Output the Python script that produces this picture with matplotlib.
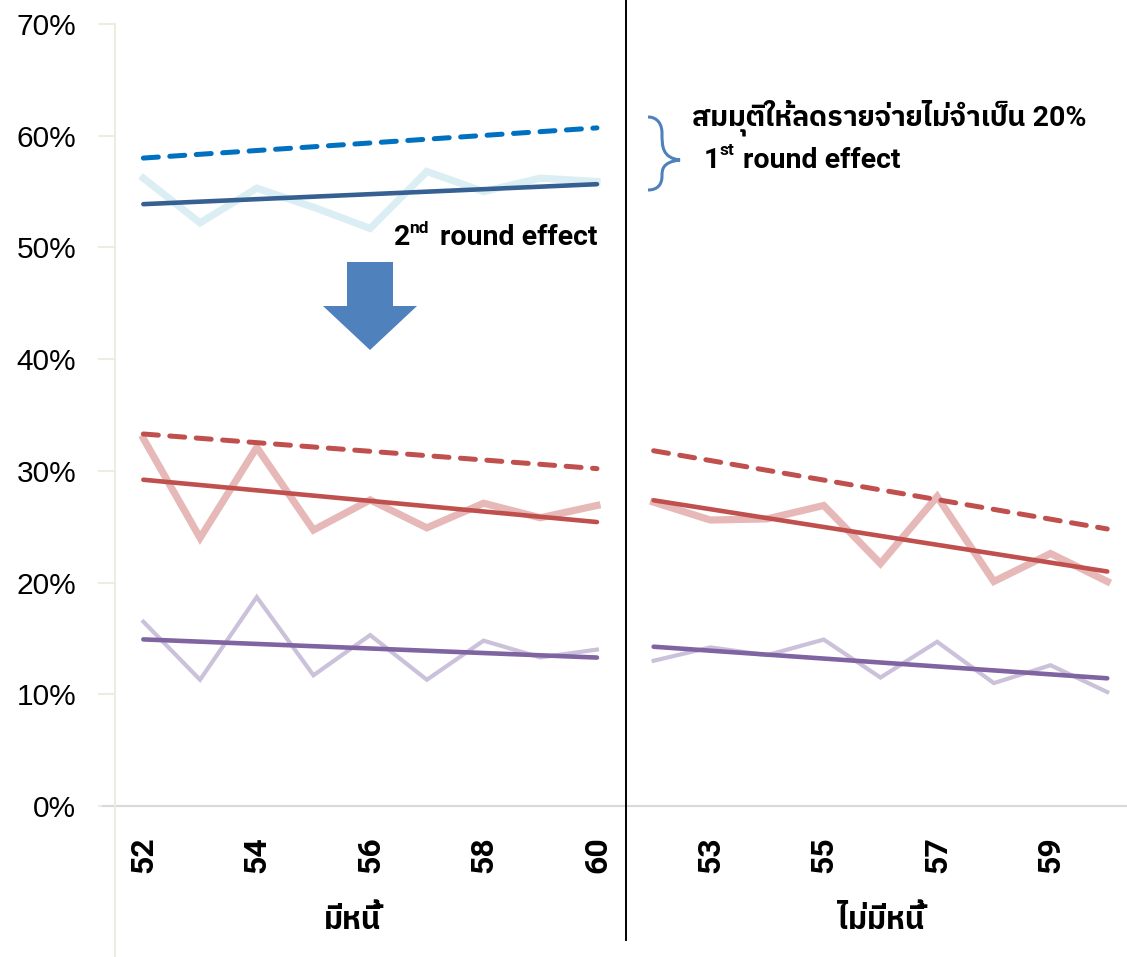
import numpy as np
import matplotlib
matplotlib.use("Agg")
import matplotlib.pyplot as plt
from matplotlib.lines import Line2D
from matplotlib.patches import Polygon, PathPatch
from matplotlib.path import Path

# ---------------- data ----------------
ages = [52, 53, 54, 55, 56, 57, 58, 59, 60]
groups = ["มีหนี้", "ไม่มีหนี้"]
y_ticks = [0, 10, 20, 30, 40, 50, 60, 70]

# group "มีหนี้" (with debt)
debt_blue_actual = [56.2, 52.2, 55.3, 53.6, 51.7, 56.8, 55.0, 56.2, 55.9]
debt_blue_scenario_trend = [58.0, 60.7]          # trend value at age 52 and 60
debt_red_actual = [32.9, 24.0, 32.1, 24.7, 27.4, 24.9, 27.1, 25.8, 26.9]
debt_red_scenario_trend = [33.3, 30.2]
debt_purple_actual = [16.5, 11.3, 18.7, 11.7, 15.3, 11.3, 14.8, 13.3, 14.0]

# group "ไม่มีหนี้" (without debt)
nodebt_red_actual = [27.2, 25.6, 25.7, 26.9, 21.7, 27.7, 20.1, 22.6, 20.1]
nodebt_red_scenario_trend = [31.8, 24.8]
nodebt_purple_actual = [13.0, 14.2, 13.5, 14.9, 11.5, 14.7, 11.0, 12.6, 10.2]

note_scenario = "สมมุติให้ลดรายจ่ายไม่จำเป็น 20%"

# ---------------- fonts ----------------
THAI = ["Roboto", "IBM Plex Sans Thai", "DejaVu Sans"]
plt.rcParams["font.family"] = ["Liberation Sans", "IBM Plex Sans Thai", "DejaVu Sans"]

W, H = 1127, 957
fig = plt.figure(figsize=(W / 100, H / 100), dpi=100)

def fx(x):
    return x / W

def fy(y):
    return 1 - y / H

ax_left, ax_right = 115, 1127
ax_top, ax_bot = 24, 806
ax = fig.add_axes([fx(ax_left), fy(ax_bot), fx(ax_right - ax_left), (ax_bot - ax_top) / H])
step = 56.7
xmax = (ax_right - ax_left) / step - 0.5
ax.set_xlim(-0.5, xmax)
ax.set_ylim(0, 70)

n = len(ages)
xl = np.arange(n)
xr = np.arange(n) + n

def trend(x, y):
    p = np.polyfit(x, y, 1)
    return np.polyval(p, x)

c_lblue = "#DAEEF3"
c_dblue = "#376092"
c_blue_d = "#0070C0"
c_red = "#C0504D"
c_lred = "#E6B9B8"
c_purp = "#8064A2"
c_lpurp = "#CCC1DA"

dash = dict(linestyle=(0, (3.0, 2.3)), dash_capstyle="round", solid_capstyle="round")

# left group
ax.plot(xl, debt_blue_actual, color=c_lblue, lw=5.2, solid_joinstyle="miter")
ax.plot(xl, trend(xl, debt_blue_actual), color=c_dblue, lw=3.3, solid_capstyle="round")
ax.plot([xl[0], xl[-1]], debt_blue_scenario_trend, color=c_blue_d, lw=3.6, **dash)
ax.plot(xl, debt_red_actual, color=c_lred, lw=5.2, solid_joinstyle="miter")
ax.plot(xl, trend(xl, debt_red_actual), color=c_red, lw=3.3, solid_capstyle="round")
ax.plot([xl[0], xl[-1]], debt_red_scenario_trend, color=c_red, lw=3.6, **dash)
ax.plot(xl, debt_purple_actual, color=c_lpurp, lw=3.0, solid_joinstyle="miter")
ax.plot(xl, trend(xl, debt_purple_actual), color=c_purp, lw=3.3, solid_capstyle="round")

# right group
ax.plot(xr, nodebt_red_actual, color=c_lred, lw=5.2, solid_joinstyle="miter")
ax.plot(xr, trend(xr, nodebt_red_actual), color=c_red, lw=3.3, solid_capstyle="round")
ax.plot([xr[0], xr[-1]], nodebt_red_scenario_trend, color=c_red, lw=3.6, **dash)
ax.plot(xr, nodebt_purple_actual, color=c_lpurp, lw=3.0, solid_joinstyle="miter")
ax.plot(xr, trend(xr, nodebt_purple_actual), color=c_purp, lw=3.3, solid_capstyle="round")

# axes styling
for s in ax.spines.values():
    s.set_visible(False)
ax.set_yticks(y_ticks)
ax.set_yticklabels([f"{v}%" for v in y_ticks], fontsize=21.5)
ax.tick_params(axis="y", length=12, width=1.5, color="#EEEBE0", pad=16)

tick_pos = [i for i in range(n) if ages[i] % 2 == 0] + [n + i for i in range(n) if ages[i] % 2 == 1]
tick_lab = [str(ages[i]) for i in range(n) if ages[i] % 2 == 0] + [str(ages[i]) for i in range(n) if ages[i] % 2 == 1]
ax.set_xticks(tick_pos)
ax.set_xticklabels(tick_lab, rotation=90, fontsize=23, fontweight="bold", family="Roboto")
ax.tick_params(axis="x", length=0, pad=22)
for lbl in ax.get_xticklabels():
    lbl.set_verticalalignment("top")

# axis lines
fig.add_artist(Line2D([fx(103), fx(1127)], [fy(806), fy(806)], color="#D9D9D9", lw=1.5))
fig.add_artist(Line2D([fx(115), fx(115)], [fy(24), fy(957)], color="#EEEBE0", lw=1.5))
fig.add_artist(Line2D([fx(626), fx(626)], [fy(0), fy(940)], color="black", lw=1.4))

# group labels
fig.text(fx(352), fy(920), groups[0], ha="center", va="center", fontsize=22, fontweight="bold", family=THAI)
fig.text(fx(881), fy(920), groups[1], ha="center", va="center", fontsize=22, fontweight="bold", family=THAI)

# annotations
fig.text(fx(692), fy(126), note_scenario, ha="left", va="baseline", fontsize=20.5, fontweight="bold", family=THAI)
fig.text(fx(704), fy(168), "1", ha="left", va="baseline", fontsize=20.5, fontweight="bold", family="Roboto")
fig.text(fx(719), fy(155), "st", ha="left", va="baseline", fontsize=12.5, fontweight="bold", family="Roboto")
fig.text(fx(743), fy(168), "round effect", ha="left", va="baseline", fontsize=20.5, fontweight="bold", family="Roboto")

fig.text(fx(394), fy(245), "2", ha="left", va="baseline", fontsize=20.5, fontweight="bold", family="Roboto")
fig.text(fx(409), fy(233), "nd", ha="left", va="baseline", fontsize=12.5, fontweight="bold", family="Roboto")
fig.text(fx(440), fy(245), "round effect", ha="left", va="baseline", fontsize=20.5, fontweight="bold", family="Roboto")

# curly brace
bx0, bx1 = 648, 680
by0, by1, bym = 117, 190, 160
verts = [
    (bx0, by0), (bx0 + 10, by0), (bx0 + 14, by0 + 8), (bx0 + 14, by0 + 16),
    (bx0 + 14, bym - 14), (bx0 + 14, bym - 2), (bx1, bym),
    (bx0 + 14, bym + 2), (bx0 + 14, bym + 10), (bx0 + 14, by1 - 14),
    (bx0 + 14, by1 - 6), (bx0 + 10, by1), (bx0, by1),
]
codes = [Path.MOVETO] + [Path.CURVE4] * 12
vf = [(fx(x), fy(y)) for x, y in verts]
fig.add_artist(PathPatch(Path(vf, codes), fill=False, edgecolor="#4F81BD", lw=2.2, transform=fig.transFigure))

# block arrow
arrow = [(347, 262), (393, 262), (393, 306), (417, 306), (370, 350), (323, 306), (347, 306)]
fig.add_artist(Polygon([(fx(x), fy(y)) for x, y in arrow], closed=True, facecolor="#4F81BD", edgecolor="none", transform=fig.transFigure))

fig.savefig("out.png", dpi=100)
